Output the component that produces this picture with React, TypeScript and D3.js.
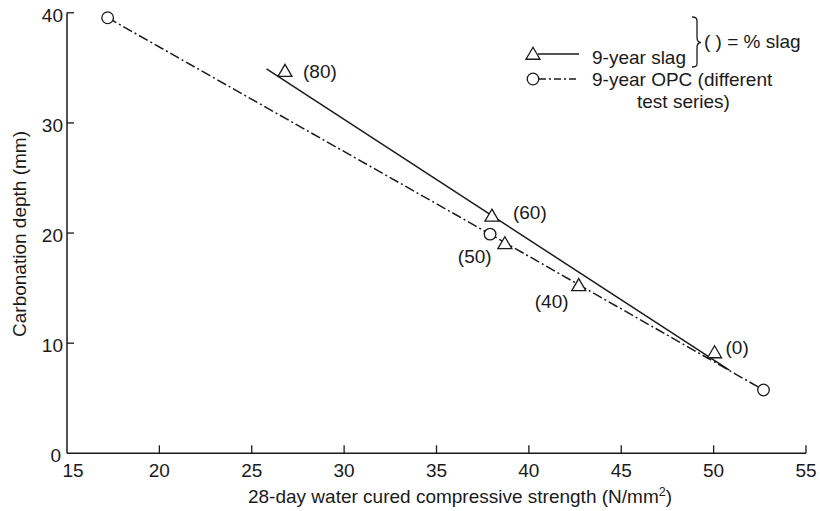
import React from "react";
import * as d3 from "d3";

// ---- data ----
const slagStrength = [26.8, 38.0, 38.7, 42.7, 50.05];
const slagDepth = [34.75, 21.6, 19.1, 15.3, 9.2];
const slagLabels = ["(80)", "(60)", "(50)", "(40)", "(0)"];

const opcStrength = [17.2, 37.9, 52.7];
const opcDepth = [39.55, 19.9, 5.75];

// fitted line through slag results
const slagFitX = [25.8, 50.85];
const slagFitY = [34.9, 7.55];

const xTicks = [15, 20, 25, 30, 35, 40, 45, 50, 55];
const yTicks = [0, 10, 20, 30, 40];

// label placement (layout only)
const labelOffsets: [number, number][] = [
  [18, 7],
  [21, 4],
  [-47, 20],
  [-44, 23],
  [11, 2],
];

const W = 820;
const H = 511;
const FONT = "'Liberation Sans', Arial, Helvetica, sans-serif";
const INK = "#1a1a1a";
const FS = 19;

export default function App() {
  const x = d3.scaleLinear().domain([15, 55]).range([67, 806]);
  const y = d3.scaleLinear().domain([0, 40]).range([453.3, 12.8]);

  const line = d3
    .line<[number, number]>()
    .x((d) => x(d[0]))
    .y((d) => y(d[1]));

  const slagFit: [number, number][] = slagFitX.map((v, i) => [v, slagFitY[i]]);
  const opcPts: [number, number][] = opcStrength.map((v, i) => [v, opcDepth[i]]);

  const triPath = (cx: number, cy: number) => {
    const h = 11.5;
    const w = 14;
    return `M${cx},${cy - h / 2 - 0.5}L${cx + w / 2},${cy + h / 2}L${cx - w / 2},${cy + h / 2}Z`;
  };

  const dashDot = "10 3 2 3";

  return (
    <svg
      width={W}
      height={H}
      style={{ position: "absolute", left: 0, top: 0, background: "#fff" }}
      fontFamily={FONT}
    >
      <rect width={W} height={H} fill="#fff" />
      {/* axes */}
      <line x1={x(15)} x2={x(55)} y1={y(0)} y2={y(0)} stroke={INK} strokeWidth={1.5} />
      <line x1={x(15)} x2={x(15)} y1={y(0)} y2={y(40)} stroke={INK} strokeWidth={1.5} />
      {xTicks.slice(1).map((t) => (
        <line key={"xt" + t} x1={x(t)} x2={x(t)} y1={y(0)} y2={y(0) - 8} stroke={INK} strokeWidth={1.3} />
      ))}
      {yTicks.slice(1).map((t) => (
        <line key={"yt" + t} x1={x(15)} x2={x(15) + 7} y1={y(t)} y2={y(t)} stroke={INK} strokeWidth={1.3} />
      ))}
      {xTicks.map((t, i) => (
        <text
          key={"xl" + t}
          x={x(t) + (i === 0 ? 6 : 0)}
          y={477}
          textAnchor="middle"
          fontSize={FS}
          fill={INK}
        >
          {t}
        </text>
      ))}
      {yTicks.map((t) => (
        <text
          key={"yl" + t}
          x={x(15) - (t === 0 ? 6 : 4)}
          y={y(t) + 9}
          textAnchor="end"
          fontSize={FS}
          fill={INK}
        >
          {t}
        </text>
      ))}
      <text x={460} y={503} textAnchor="middle" fontSize={FS} fill={INK}>
        28-day water cured compressive strength (N/mm
        <tspan dy={-7} fontSize={12.5}>2</tspan>
        <tspan dy={7}>)</tspan>
      </text>
      <text
        transform={`translate(26,234) rotate(-90)`}
        textAnchor="middle"
        fontSize={FS}
        fill={INK}
      >
        Carbonation depth (mm)
      </text>

      {/* lines */}
      <path
        d={line(opcPts) || ""}
        fill="none"
        stroke={INK}
        strokeWidth={1.5}
        strokeDasharray={dashDot}
      />
      <path d={line(slagFit) || ""} fill="none" stroke={INK} strokeWidth={1.5} />

      {/* markers */}
      {opcStrength.map((v, i) => (
        <circle key={"c" + i} cx={x(v)} cy={y(opcDepth[i])} r={5.8} fill="#fff" stroke={INK} strokeWidth={1.3} />
      ))}
      {slagStrength.map((v, i) => (
        <path key={"t" + i} d={triPath(x(v), y(slagDepth[i]))} fill="#fff" stroke={INK} strokeWidth={1.3} />
      ))}
      {slagLabels.map((l, i) => (
        <text
          key={"l" + i}
          x={x(slagStrength[i]) + labelOffsets[i][0]}
          y={y(slagDepth[i]) + labelOffsets[i][1]}
          fontSize={FS}
          fill={INK}
        >
          {l}
        </text>
      ))}

      {/* legend */}
      <line x1={538} x2={579} y1={54} y2={54} stroke={INK} strokeWidth={1.4} />
      <path d={triPath(533, 53.5)} fill="#fff" stroke={INK} strokeWidth={1.3} />
      <line x1={539} x2={579} y1={79} y2={79} stroke={INK} strokeWidth={1.4} strokeDasharray="7 3 2 3" />
      <circle cx={533} cy={79} r={5.8} fill="#fff" stroke={INK} strokeWidth={1.3} />
      <text x={592} y={64} fontSize={FS} fill={INK}>9-year slag</text>
      <text x={592} y={86} fontSize={FS} fill={INK}>9-year OPC (different</text>
      <text x={637} y={108} fontSize={FS} fill={INK}>test series)</text>
      <path
        d="M692,17 C698,17 697,20 697,26 L697,37 C697,41 698,42.5 701,42.5 C698,42.5 697,44 697,48 L697,59 C697,65 698,67 692,67"
        fill="none"
        stroke={INK}
        strokeWidth={1.3}
      />
      <text x={704} y={48} fontSize={FS} fill={INK}>( ) = % slag</text>
    </svg>
  );
}
